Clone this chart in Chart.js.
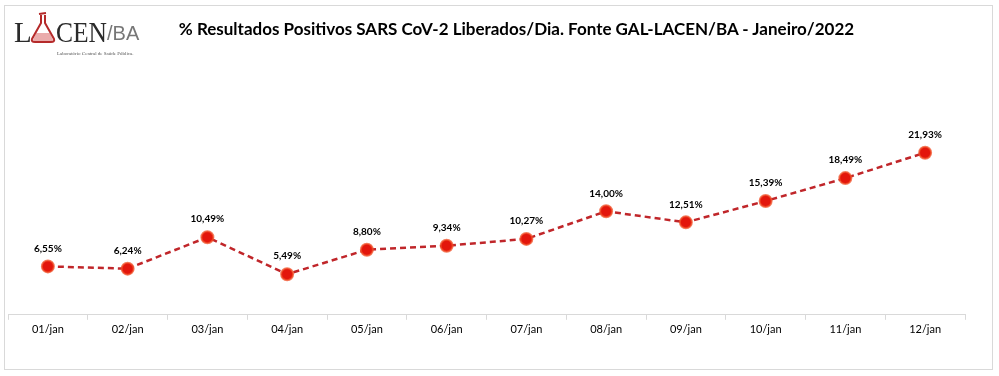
<!DOCTYPE html>
<html lang="pt-BR">
<head>
<meta charset="utf-8">
<title>% Resultados Positivos SARS CoV-2</title>
<script src="https://cdn.jsdelivr.net/npm/chart.js@4.4.1/dist/chart.umd.min.js"></script>
<style>
  html, body { margin: 0; padding: 0; background: #fff; }
  #wrap { position: relative; width: 999px; height: 376px; overflow: hidden; }
  #frame { position: absolute; left: 4px; top: 5px; width: 987px; height: 363px; border: 1px solid #d9d9d9; }
  #chart { position: absolute; left: 0; top: 0; }
  #title {
    position: absolute; left: 0; top: 18px; width: 1033px; text-align: center;
    font-family: Lato, "Open Sans", sans-serif; font-weight: bold; font-size: 17px; color: #000;
  }
  #logo { position: absolute; left: 0; top: 0; width: 150px; height: 62px; }
  #logo .big { position: absolute; top: 18px; font-family: "Liberation Serif", serif; font-size: 29px; color: #2b2b2b; line-height: 29px; transform-origin: left top; }
  #logo .ba { position: absolute; top: 23px; left: 107px; font-family: "Liberation Sans Narrow", "Liberation Sans", sans-serif; font-size: 20px; line-height: 20px; color: #777; }
  #logo .sub { position: absolute; top: 51px; left: 57px; font-family: "Liberation Serif", serif; font-size: 5px; color: #555; white-space: nowrap; }
</style>
</head>
<body>
<div id="wrap">
  <div id="frame"></div>
  <canvas id="chart" width="999" height="376"></canvas>
  <div id="logo">
    <span class="big" style="left:14px">L</span>
    <svg style="position:absolute;left:30px;top:12px" width="26" height="32" viewBox="0 0 26 32">
      <path d="M9 2 L16 1 M11 3 L11 11 L2 27 Q1 30 5 30 L21 30 Q25 30 24 27 L15 11 L15 3" fill="none" stroke="#b52a2a" stroke-width="2"/>
      <path d="M6 21 L20 21 L23 28 Q23 29 21 29 L5 29 Q3 29 3 28 Z" fill="#d65a5a" opacity="0.5"/>
    </svg>
    <span class="big" style="left:56px;transform:scaleX(0.88)">CEN</span>
    <span class="ba">/BA</span>
    <span class="sub">Laboratório Central de Saúde Pública.</span>
  </div>
  <div id="title">% Resultados Positivos SARS CoV-2 Liberados/Dia. Fonte GAL-LACEN/BA - Janeiro/2022</div>
</div>
<script>
// ─── Data ────────────────────────────────────────────────────────
const days = ["01/jan", "02/jan", "03/jan", "04/jan", "05/jan", "06/jan",
              "07/jan", "08/jan", "09/jan", "10/jan", "11/jan", "12/jan"];
const positivePct = [6.55, 6.24, 10.49, 5.49, 8.80, 9.34, 10.27, 14.00, 12.51, 15.39, 18.49, 21.93];
const yMin = 0;
const yMax = 25;

// value labels above each point, "6,55%" style
const pointLabels = {
  id: "pointLabels",
  afterDatasetsDraw(chart) {
    const ctx = chart.ctx;
    const meta = chart.getDatasetMeta(0);
    ctx.save();
    ctx.font = "bold 10px Lato, 'Open Sans', sans-serif";
    ctx.fillStyle = "#000";
    ctx.textAlign = "center";
    ctx.textBaseline = "middle";
    meta.data.forEach((pt, i) => {
      const txt = positivePct[i].toFixed(2).replace(".", ",") + "%";
      ctx.fillText(txt, pt.x, pt.y - 18);
    });
    ctx.restore();
  },
};

new Chart(document.getElementById("chart"), {
  type: "line",
  data: {
    labels: days,
    datasets: [{
      data: positivePct,
      borderColor: "#c0262a",
      borderWidth: 2.5,
      borderDash: [6, 4],
      pointRadius: 6,
      pointBorderWidth: 2,
      pointBackgroundColor: "#e3160c",
      pointBorderColor: "rgba(240,80,40,0.75)",
      tension: 0,
    }],
  },
  options: {
    responsive: false,
    animation: false,
    devicePixelRatio: 1,
    layout: { padding: { top: 130, left: 8, right: 34, bottom: 37 } },
    plugins: { legend: { display: false }, tooltip: { enabled: false } },
    scales: {
      x: {
        offset: true,
        grid: { offset: true, drawOnChartArea: false, drawTicks: true, tickLength: 5, color: "#d9d9d9" },
        border: { display: true, color: "#d9d9d9", width: 1 },
        ticks: { color: "#000", padding: 3, font: { family: "'Liberation Sans Narrow', Lato, sans-serif", size: 11 } },
      },
      y: { display: false, min: yMin, max: yMax },
    },
  },
  plugins: [pointLabels],
});
</script>
</body>
</html>
